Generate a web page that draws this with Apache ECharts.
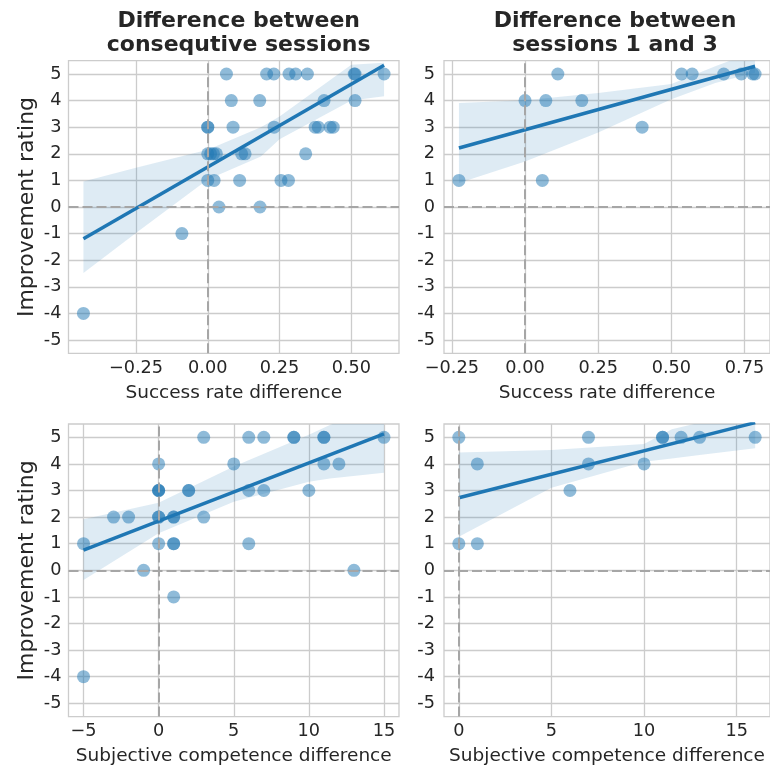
<!DOCTYPE html>
<html>
<head>
<meta charset="utf-8">
<script src="https://cdn.jsdelivr.net/npm/echarts@6/dist/echarts.min.js"></script>
<style>html,body{margin:0;padding:0;background:#fff}#c{width:770px;height:769px}</style>
</head>
<body>
<div id="c"></div>
<script>
// ---- Data ----
const yTicks = [-5, -4, -3, -2, -1, 0, 1, 2, 3, 4, 5];
const yTickLabels = ['-5', '-4', '-3', '-2', '-1', '0', '1', '2', '3', '4', '5'];

// Top-left: success rate difference between consecutive sessions
const tlX = [0.065, 0.205, 0.23, 0.283, 0.306, 0.347, 0.51, 0.513, 0.614,
             0.082, 0.181, 0.405, 0.513,
             0, 0, 0.088, 0.231, 0.374, 0.385, 0.426, 0.437,
             0, 0.01, 0.02, 0.03, 0.118, 0.13, 0.341,
             0, 0.022, 0.111, 0.255, 0.281,
             0.039, 0.182,
             -0.09,
             -0.433];
const tlY = [5, 5, 5, 5, 5, 5, 5, 5, 5,
             4, 4, 4, 4,
             3, 3, 3, 3, 3, 3, 3, 3,
             2, 2, 2, 2, 2, 2, 2,
             1, 1, 1, 1, 1,
             0, 0,
             -1,
             -4];
const tlFitX = [-0.433, 0.614];
const tlFitY = [-1.19, 5.33];
const tlBandX = [-0.433, -0.25, 0, 0.185, 0.25, 0.5, 0.614];
const tlBandUp = [0.96, 1.48, 2.15, 3.0, 3.4, 5.35, 5.42];
const tlBandLo = [-2.48, -0.98, 1.03, 1.9, 2.55, 4.0, 4.16];
const tlXTicks = [-0.25, 0, 0.25, 0.5];

// Top-right: success rate difference between sessions 1 and 3
const trX = [0.112, 0.535, 0.571, 0.679, 0.739, 0.778, 0.786,
             0, 0.071, 0.194,
             0.40,
             -0.226, 0.059];
const trY = [5, 5, 5, 5, 5, 5, 5,
             4, 4, 4,
             3,
             1, 1];
const trFitX = [-0.226, 0.786];
const trFitY = [2.22, 5.29];
const trBandX = [-0.226, 0, 0.25, 0.5, 0.65, 0.7, 0.786];
const trBandUp = [3.91, 4.01, 4.29, 4.62, 5.29, 5.5, 5.8];
const trBandLo = [0.90, 1.71, 2.8, 4.05, 4.66, 4.8, 5.05];
const trXTicks = [-0.25, 0, 0.25, 0.5, 0.75];

// Bottom-left: subjective competence difference, consecutive sessions
const blX = [3, 6, 7, 9, 9, 11, 11, 15,
             0, 5, 11, 12,
             0, 0, 0, 2, 2, 6, 7, 10,
             -3, -2, 0, 0, 1, 1, 3,
             -5, 0, 1, 1, 6,
             -1, 13,
             1,
             -5];
const blY = [5, 5, 5, 5, 5, 5, 5, 5,
             4, 4, 4, 4,
             3, 3, 3, 3, 3, 3, 3, 3,
             2, 2, 2, 2, 2, 2, 2,
             1, 1, 1, 1, 1,
             0, 0,
             -1,
             -4];
const blFitX = [-5, 15];
const blFitY = [0.76, 5.13];
const blBandX = [-5, 0, 5, 10, 11.4, 15];
const blBandUp = [1.92, 2.54, 3.9, 5.1, 5.46, 6.3];
const blBandLo = [-0.36, 1.39, 2.58, 3.33, 3.45, 3.67];
const blXTicks = [-5, 0, 5, 10, 15];

// Bottom-right: subjective competence difference, sessions 1 and 3
const brX = [0, 7, 11, 11, 12, 13, 16,
             1, 7, 10,
             6,
             0, 1];
const brY = [5, 5, 5, 5, 5, 5, 5,
             4, 4, 4,
             3,
             1, 1];
const brFitX = [0, 16];
const brFitY = [2.73, 5.55];
const brBandX = [0, 5, 10, 11.5, 13, 16];
const brBandUp = [4.43, 4.52, 4.75, 5.3, 5.55, 6.2];
const brBandLo = [1.26, 3.1, 4.08, 4.2, 4.33, 4.59];
const brXTicks = [0, 5, 10, 15];

const titles = ['Difference between\nconsequtive sessions', 'Difference between\nsessions 1 and 3'];
const xNames = ['Success rate difference', 'Success rate difference', 'Subjective competence difference', 'Subjective competence difference'];
const yName = 'Improvement rating';

// ---- Styling / layout ----
const FONT = 'DejaVu Sans';
const TXT = '#262626';
const BLUE = '#1f77b4';
const GRID_C = '#cccccc';

const panels = [
  {x: tlX, y: tlY, fx: tlFitX, fy: tlFitY, bx: tlBandX, bu: tlBandUp, bl: tlBandLo, ticks: tlXTicks, min: -0.485, max: 0.666, dec: 2,
   grid: {left: 68.5, top: 60.7, width: 330.5, height: 292.6}, yname: true},
  {x: trX, y: trY, fx: trFitX, fy: trFitY, bx: trBandX, bu: trBandUp, bl: trBandLo, ticks: trXTicks, min: -0.277, max: 0.837, dec: 2,
   grid: {left: 444, top: 60.7, width: 332, height: 292.6}, yname: false},
  {x: blX, y: blY, fx: blFitX, fy: blFitY, bx: blBandX, bu: blBandUp, bl: blBandLo, ticks: blXTicks, min: -6, max: 16, dec: 0,
   grid: {left: 68.5, top: 424, width: 330.5, height: 292.6}, yname: true},
  {x: brX, y: brY, fx: brFitX, fy: brFitY, bx: brBandX, bu: brBandUp, bl: brBandLo, ticks: brXTicks, min: -0.8, max: 16.8, dec: 0,
   grid: {left: 444, top: 424, width: 332, height: 292.6}, yname: false}
];

const grids = [], xAxes = [], yAxes = [], series = [];
panels.forEach((p, i) => {
  grids.push(Object.assign({show: true, borderColor: GRID_C, borderWidth: 1.3, backgroundColor: '#fff'}, p.grid));
  xAxes.push({
    type: 'value', gridIndex: i, min: p.min, max: p.max,
    name: xNames[i], nameLocation: 'middle', nameGap: 30,
    nameTextStyle: {fontFamily: FONT, fontSize: 18.5, color: TXT},
    axisLine: {show: false},
    axisTick: {show: false, customValues: p.ticks},
    axisLabel: {customValues: p.ticks, margin: 6, fontFamily: FONT, fontSize: 17.7, color: TXT,
      formatter: v => (p.dec ? Number(v).toFixed(p.dec) : String(Math.round(v))).replace('-', '\u2212')},
    splitLine: {show: true, lineStyle: {color: GRID_C, width: 1.3}}
  });
  yAxes.push({
    type: 'value', gridIndex: i, min: -5.5, max: 5.5,
    name: p.yname ? yName : '', nameLocation: 'middle', nameGap: 30, nameRotate: 90,
    nameTextStyle: {fontFamily: FONT, fontSize: 22, color: TXT},
    axisLine: {show: false},
    axisTick: {show: false, customValues: yTicks},
    axisLabel: {customValues: yTicks, margin: p.yname ? 7 : 9, fontFamily: FONT, fontSize: 17.7, color: TXT,
      formatter: v => yTickLabels[yTicks.indexOf(Math.round(v))]},
    splitLine: {show: true, lineStyle: {color: GRID_C, width: 1.3}}
  });
  // confidence band
  series.push({
    type: 'custom', xAxisIndex: i, yAxisIndex: i, clip: true, silent: true, z: 1,
    data: p.bx.map((x, k) => [x, p.bu[k], p.bl[k]]),
    encode: {x: 0, y: [1, 2]},
    renderItem: function (params, api) {
      if (params.dataIndex !== 0) return null;
      const pts = [];
      for (let k = 0; k < p.bx.length; k++) pts.push(api.coord([p.bx[k], p.bu[k]]));
      for (let k = p.bx.length - 1; k >= 0; k--) pts.push(api.coord([p.bx[k], p.bl[k]]));
      return {type: 'polygon', shape: {points: pts}, style: {fill: 'rgba(31,119,180,0.15)'}};
    }
  });
  // zero reference lines
  series.push({
    type: 'line', xAxisIndex: i, yAxisIndex: i, data: [], z: 2, silent: true,
    markLine: {
      silent: true, symbol: 'none', animation: false,
      label: {show: false},
      lineStyle: {color: '#a6a6a6', width: 2, type: [10, 4]},
      data: [{xAxis: 0}, {yAxis: 0}]
    }
  });
  // scatter
  series.push({
    type: 'scatter', xAxisIndex: i, yAxisIndex: i, z: 3, silent: true,
    symbolSize: 13,
    itemStyle: {color: BLUE, opacity: 0.5},
    data: p.x.map((x, k) => [x, p.y[k]])
  });
  // regression line
  series.push({
    type: 'line', xAxisIndex: i, yAxisIndex: i, z: 4, silent: true,
    showSymbol: false, symbol: 'none',
    lineStyle: {color: BLUE, width: 3.5},
    data: p.fx.map((x, k) => [x, p.fy[k]])
  });
});

const chart = echarts.init(document.getElementById('c'), null, {renderer: 'canvas'});
chart.setOption({
  animation: false,
  backgroundColor: '#ffffff',
  title: [
    {text: titles[0], left: 233.7, top: 4, textAlign: 'center',
     textStyle: {fontFamily: FONT, fontSize: 22, fontWeight: 'bold', color: TXT, lineHeight: 24.5}},
    {text: titles[1], left: 610, top: 4, textAlign: 'center',
     textStyle: {fontFamily: FONT, fontSize: 22, fontWeight: 'bold', color: TXT, lineHeight: 24.5}}
  ],
  grid: grids,
  xAxis: xAxes,
  yAxis: yAxes,
  series: series
});
</script>
</body>
</html>
